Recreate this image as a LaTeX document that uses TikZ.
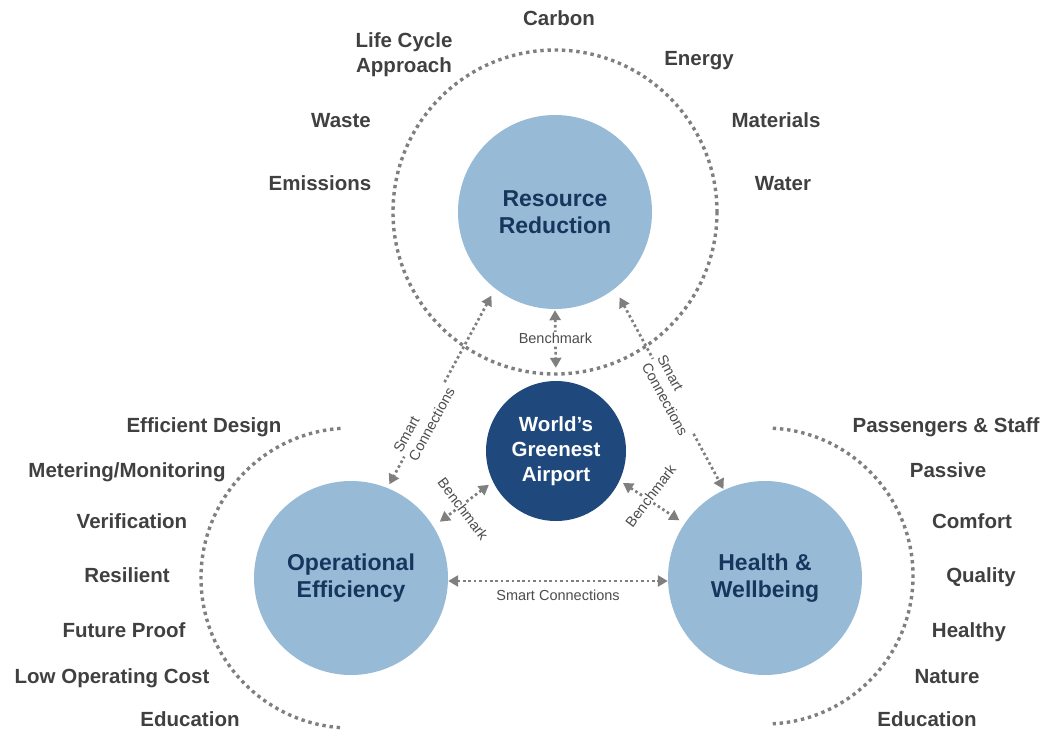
\documentclass[tikz,border=0pt]{standalone}
\usepackage{fontspec}
\setmainfont{Liberation Sans}
\usetikzlibrary{arrows.meta}
\definecolor{lightb}{HTML}{97BBD6}
\definecolor{navy}{HTML}{17365D}
\definecolor{deep}{HTML}{1F497D}
\definecolor{dotgray}{HTML}{7F7F7F}
\definecolor{txtgray}{HTML}{404040}
\definecolor{labgray}{HTML}{4D4D4D}
\begin{document}
\begin{tikzpicture}[x=1pt,y=-1pt,
  bigc/.style={circle, fill=lightb, minimum size=194pt, inner sep=0pt, text=navy,
    font=\bfseries\fontsize{23}{27}\selectfont, align=center},
  midc/.style={circle, fill=deep, minimum size=140pt, inner sep=0pt, text=white,
    font=\bfseries\fontsize{20.5}{25}\selectfont, align=center},
  outer/.style={text=txtgray, font=\bfseries\fontsize{20.5}{25}\selectfont, inner sep=0pt, anchor=base},
  ring/.style={draw=dotgray, line width=3.4pt, dash pattern=on 3.4pt off 3.8pt},
  conn/.style={draw=dotgray, line width=2.7pt, dash pattern=on 2.6pt off 2.8pt,
    {Triangle[length=10pt,width=11pt]}-{Triangle[length=10pt,width=11pt]}},
  lab/.style={font=\fontsize{14.5}{17.5}\selectfont, text=labgray, fill=white, inner sep=1pt}
]
\useasboundingbox (0,0) rectangle (1048,736);

% dotted rings
\draw[ring] (555,212) circle[radius=162];
\draw[ring] (351,578) ++(-94:150) arc[start angle=-94, end angle=-266, radius=150];
\draw[ring] (765,576) ++(-87:148) arc[start angle=-87, end angle=87, radius=148];

% circles
\node[bigc] (RR) at (555,212) {Resource\\Reduction};
\node[bigc] (OE) at (351,578) {Operational\\Efficiency};
\node[bigc] (HW) at (765,578) {Health \&\\Wellbeing};
\node[midc] (WGA) at (556,451) {World’s\\Greenest\\Airport};

% connectors
\draw[conn, shorten <=1pt, shorten >=13pt] (RR.270) -- node[lab, pos=0.41] {Benchmark} (WGA.90);
\draw[conn, shorten <=8pt, shorten >=4pt] (RR.232) -- node[lab, sloped, pos=0.66, align=left] {Smart\\Connections} (OE.68);
\draw[conn, shorten <=10pt, shorten >=1pt] (RR.308) -- node[lab, sloped, pos=0.53, align=left] {Smart\\Connections} (HW.115);
\draw[conn, shorten <=5pt, shorten >=8pt] (WGA.206) -- node[lab, rotate=-53, xshift=4pt, yshift=-3pt] {Benchmark} (OE.32);
\draw[conn, shorten <=4pt, shorten >=6pt] (WGA.335) -- node[lab, rotate=53, xshift=4pt, yshift=5pt] {Benchmark} (HW.146);
\draw[conn] ([yshift=-3pt]OE.east) -- node[lab, midway, below=7pt] {Smart Connections} ([yshift=-3pt]HW.west);

% outer labels: top
\node[outer] (t1) at (559,25) {Carbon};
\node[outer, anchor=center, align=center, font=\bfseries\fontsize{20.5}{25}\selectfont] (t2) at (404,55) {Life Cycle\\Approach};
\node[outer] (t3) at (699,65) {Energy};
\node[outer] (t4) at (341,127) {Waste};
\node[outer] (t5) at (776,127) {Materials};
\node[outer] (t6) at (320,190) {Emissions};
\node[outer] (t7) at (783,190) {Water};

% outer labels: left
\node[outer] (l1) at (204,432) {Efficient Design};
\node[outer] (l2) at (127,477) {Metering/Monitoring};
\node[outer] (l3) at (132,528) {Verification};
\node[outer] (l4) at (127,582) {Resilient};
\node[outer] (l5) at (124,637) {Future Proof};
\node[outer] (l6) at (112,683) {Low Operating Cost};
\node[outer] (l7) at (190,726) {Education};

% outer labels: right
\node[outer] (r1) at (946,432) {Passengers \& Staff};
\node[outer] (r2) at (948,477) {Passive};
\node[outer] (r3) at (972,528) {Comfort};
\node[outer] (r4) at (981,582) {Quality};
\node[outer] (r5) at (969,637) {Healthy};
\node[outer] (r6) at (947,683) {Nature};
\node[outer] (r7) at (927,726) {Education};
\end{tikzpicture}
\end{document}
